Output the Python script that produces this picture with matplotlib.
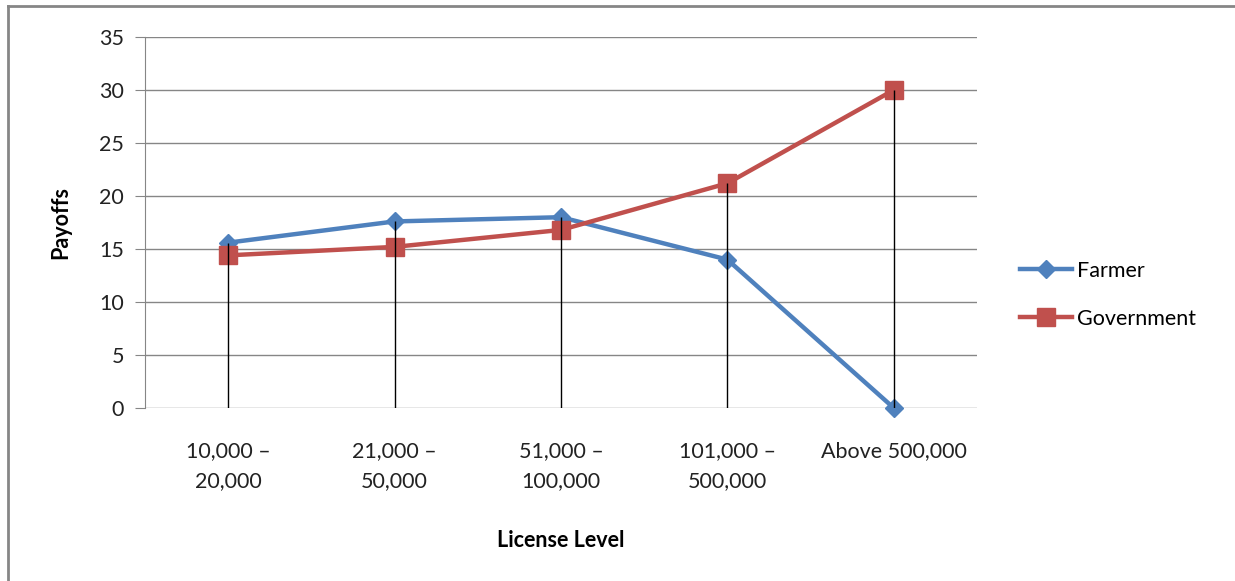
import numpy as np
import matplotlib.pyplot as plt
from matplotlib.lines import Line2D

plt.rcParams['font.family'] = ['Lato', 'DejaVu Sans']

# license bands and payoffs
levels = ["10,000 \u2013\n20,000", "21,000 \u2013\n50,000", "51,000 \u2013\n100,000",
          "101,000 \u2013\n500,000", "Above 500,000"]
farmer = [15.6, 17.6, 18.0, 14.0, 0.0]
government = [14.4, 15.2, 16.8, 21.2, 30.0]
yticks = [0, 5, 10, 15, 20, 25, 30, 35]

blue = "#4F81BD"
red = "#C0504D"
grey = "#868686"
fs = 15.5

fig = plt.figure(figsize=(12.35, 5.81), dpi=100)
ax = fig.add_axes([145 / 1235, 1 - 408 / 581, 832 / 1235, 371 / 581])

x = np.arange(len(levels))
ax.plot(x, farmer, color=blue, lw=3.2, marker="D", ms=9.5, label="Farmer",
        zorder=3, clip_on=False)
ax.plot(x, government, color=red, lw=3.2, marker="s", ms=13, label="Government",
        zorder=3, clip_on=False)

# drop lines from the top point of each category down to zero
ax.vlines(x, 0, np.maximum(farmer, government), color="black", lw=1, zorder=4)

ax.set_xlim(-0.5, len(levels) - 0.5)
ax.set_ylim(0, 35)
ax.set_yticks(yticks)
ax.set_xticks(x)
ax.set_xticklabels(levels, fontsize=fs, color="#222222", linespacing=1.6)
ax.tick_params(axis="y", labelsize=fs, labelcolor="#222222", color=grey, length=7, pad=8)
ax.tick_params(axis="x", length=0, pad=24)

ax.grid(axis="y", color=grey, lw=1)
ax.set_axisbelow(True)
for s in ["top", "right", "bottom"]:
    ax.spines[s].set_visible(False)
ax.spines["left"].set_color(grey)

ax.set_ylabel("Payoffs", fontsize=fs, fontweight="bold", labelpad=20)
ax.set_xlabel("License Level", fontsize=fs, fontweight="bold", labelpad=28)

handles = [Line2D([], [], color=blue, lw=3.2, marker="D", ms=9.5),
           Line2D([], [], color=red, lw=3.2, marker="s", ms=13)]
fig.legend(handles, ["Farmer", "Government"], loc="center left",
           bbox_to_anchor=(1001 / 1235, 1 - 295 / 581), frameon=False,
           fontsize=fs, handlelength=2.4, handletextpad=0.25, labelspacing=1.3)

# chart frame
fig.add_artist(Line2D([8 / 1235, 8 / 1235], [0, 1 - 6 / 581], color=grey, lw=2))
fig.add_artist(Line2D([8 / 1235, 1], [1 - 6 / 581, 1 - 6 / 581], color=grey, lw=2))

fig.savefig("out.png", dpi=100)
